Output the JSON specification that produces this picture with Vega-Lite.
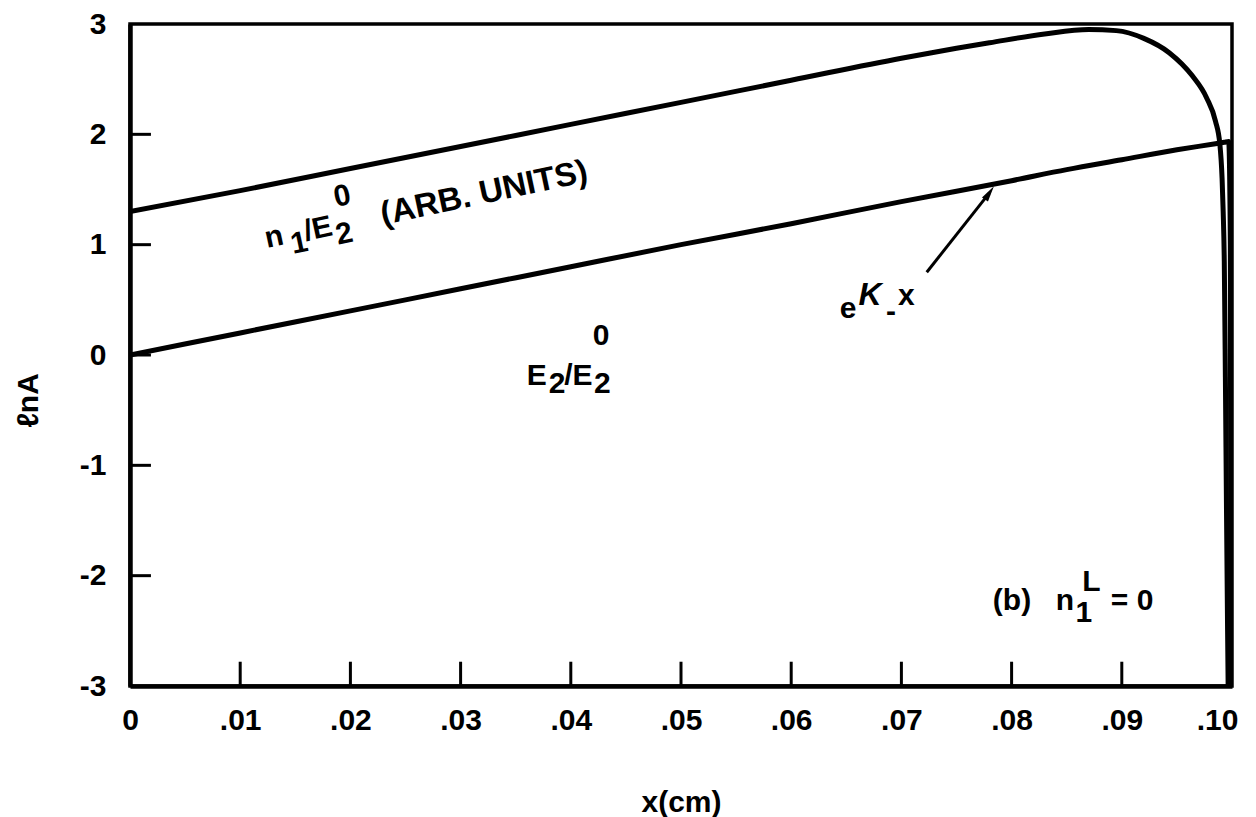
{
  "$schema": "https://vega.github.io/schema/vega-lite/v6.json",
  "width": 1102,
  "height": 662,
  "autosize": "none",
  "padding": {"left": 130, "top": 24, "right": 24, "bottom": 131},
  "background": "white",
  "config": {
    "view": {"stroke": "black", "strokeWidth": 3.5},
    "font": "Liberation Sans",
    "axis": {
      "grid": false,
      "ticks": false,
      "tickSize": 0,
      "domainColor": "black",
      "domainWidth": 4.5,
      "labelColor": "black",
      "labelFont": "Liberation Sans",
      "labelFontWeight": "bold",
      "labelFontSize": 30,
      "titleColor": "black",
      "titleFont": "Liberation Sans",
      "titleFontWeight": "bold",
      "titleFontSize": 30
    }
  },
  "datasets": {
    "curves": [
      {"series": "n1", "x": 0, "y": 1.30},
      {"series": "n1", "x": 0.01, "y": 1.49},
      {"series": "n1", "x": 0.02, "y": 1.69},
      {"series": "n1", "x": 0.03, "y": 1.89},
      {"series": "n1", "x": 0.04, "y": 2.09},
      {"series": "n1", "x": 0.05, "y": 2.29},
      {"series": "n1", "x": 0.06, "y": 2.49},
      {"series": "n1", "x": 0.07, "y": 2.69},
      {"series": "n1", "x": 0.075, "y": 2.78},
      {"series": "n1", "x": 0.078, "y": 2.83},
      {"series": "n1", "x": 0.083, "y": 2.91},
      {"series": "n1", "x": 0.087, "y": 2.95},
      {"series": "n1", "x": 0.0895, "y": 2.94},
      {"series": "n1", "x": 0.092, "y": 2.87},
      {"series": "n1", "x": 0.0943, "y": 2.74},
      {"series": "n1", "x": 0.0964, "y": 2.53},
      {"series": "n1", "x": 0.0977, "y": 2.33},
      {"series": "n1", "x": 0.0985, "y": 2.12},
      {"series": "n1", "x": 0.0989, "y": 1.91},
      {"series": "n1", "x": 0.0991, "y": 1.60},
      {"series": "n1", "x": 0.0992, "y": 1.30},
      {"series": "n1", "x": 0.0993, "y": 0.85},
      {"series": "n1", "x": 0.0994, "y": -0.2},
      {"series": "n1", "x": 0.0995, "y": -1.4},
      {"series": "n1", "x": 0.0996, "y": -2.5},
      {"series": "n1", "x": 0.09965, "y": -3.0},
      {"series": "E2", "x": 0, "y": 0.0},
      {"series": "E2", "x": 0.01, "y": 0.20},
      {"series": "E2", "x": 0.02, "y": 0.40},
      {"series": "E2", "x": 0.03, "y": 0.60},
      {"series": "E2", "x": 0.04, "y": 0.80},
      {"series": "E2", "x": 0.05, "y": 1.00},
      {"series": "E2", "x": 0.06, "y": 1.19},
      {"series": "E2", "x": 0.07, "y": 1.39},
      {"series": "E2", "x": 0.08, "y": 1.58},
      {"series": "E2", "x": 0.085, "y": 1.68},
      {"series": "E2", "x": 0.09, "y": 1.77},
      {"series": "E2", "x": 0.095, "y": 1.86},
      {"series": "E2", "x": 0.0985, "y": 1.915},
      {"series": "E2", "x": 0.0993, "y": 1.928},
      {"series": "E2", "x": 0.0997, "y": 1.935},
      {"series": "E2", "x": 0.09985, "y": 1.0},
      {"series": "E2", "x": 0.0999, "y": -3.0}
    ],
    "xticks": [
      {"v": 0.01}, {"v": 0.02}, {"v": 0.03}, {"v": 0.04}, {"v": 0.05},
      {"v": 0.06}, {"v": 0.07}, {"v": 0.08}, {"v": 0.09}
    ],
    "yticks": [
      {"v": -2}, {"v": -1}, {"v": 0}, {"v": 1}, {"v": 2}
    ],
    "notes": [
      {"group": "upper", "x": 0.01243, "y": 0.97, "text": "n"},
      {"group": "upper", "x": 0.01479, "y": 0.915, "text": "1"},
      {"group": "upper", "x": 0.01597, "y": 1.033, "text": "/E"},
      {"group": "upper", "x": 0.01887, "y": 1.0, "text": "2"},
      {"group": "upper", "x": 0.01869, "y": 1.341, "text": "0"},
      {"group": "upper2", "x": 0.02296, "y": 1.178, "text": "(ARB.  UNITS)"},
      {"group": "plain", "x": 0.0360, "y": -0.27, "text": "E"},
      {"group": "plain", "x": 0.0380, "y": -0.34, "text": "2"},
      {"group": "plain", "x": 0.0394, "y": -0.27, "text": "/E"},
      {"group": "plain", "x": 0.0421, "y": -0.34, "text": "2"},
      {"group": "plain", "x": 0.0420, "y": 0.09, "text": "0"},
      {"group": "plain", "x": 0.0644, "y": 0.335, "text": "e"},
      {"group": "plain", "x": 0.0686, "y": 0.31, "text": "-"},
      {"group": "plain", "x": 0.0697, "y": 0.453, "text": "x"},
      {"group": "kappa", "x": 0.0661, "y": 0.453, "text": "Κ"},
      {"group": "plain", "x": 0.0783, "y": -2.31, "text": "(b)"},
      {"group": "plain", "x": 0.0840, "y": -2.31, "text": "n"},
      {"group": "plain", "x": 0.0858, "y": -2.42, "text": "1"},
      {"group": "plain", "x": 0.0864, "y": -2.14, "text": "L"},
      {"group": "plain", "x": 0.0890, "y": -2.31, "text": "= 0"}
    ],
    "arrow": [
      {"x": 0.0723, "y": 0.75, "x2": 0.07799, "y2": 1.47}
    ]
  },
  "layer": [
    {
      "data": {"name": "curves"},
      "mark": {"type": "line", "color": "black", "strokeWidth": 5, "interpolate": "monotone", "clip": true},
      "encoding": {
        "x": {
          "field": "x", "type": "quantitative",
          "scale": {"domain": [0, 0.1], "nice": false, "zero": false},
          "axis": {
            "title": "x(cm)",
            "values": [0, 0.01, 0.02, 0.03, 0.04, 0.05, 0.06, 0.07, 0.08, 0.09, 0.1],
            "labelExpr": "datum.value == 0 ? '0' : replace(format(datum.value, '.2f'), '0.', '.')",
            "labelPadding": 19,
            "labelAlign": {"condition": {"test": "datum.value >= 0.1", "value": "right"}, "value": "center"},
            "labelOffset": {"condition": {"test": "datum.value >= 0.1", "value": 6}, "value": 0},
            "titlePadding": 52
          }
        },
        "y": {
          "field": "y", "type": "quantitative",
          "scale": {"domain": [-3, 3], "nice": false, "zero": false},
          "axis": {
            "title": "ℓnA",
            "values": [-3, -2, -1, 0, 1, 2, 3],
            "labelExpr": "datum.value < 0 ? '-' + abs(datum.value) : '' + datum.value",
            "labelPadding": 24,
            "titlePadding": 36,
            "titleY": 376
          }
        },
        "detail": {"field": "series"}
      }
    },
    {
      "data": {"name": "xticks"},
      "mark": {"type": "rule", "color": "black", "strokeWidth": 3},
      "encoding": {
        "x": {"field": "v", "type": "quantitative"},
        "y": {"datum": -3},
        "y2": {"datum": -2.78}
      }
    },
    {
      "data": {"name": "yticks"},
      "mark": {"type": "rule", "color": "black", "strokeWidth": 3},
      "encoding": {
        "y": {"field": "v", "type": "quantitative"},
        "x": {"datum": 0},
        "x2": {"datum": 0.0019}
      }
    },
    {
      "data": {"name": "arrow"},
      "mark": {"type": "rule", "color": "black", "strokeWidth": 3},
      "encoding": {
        "x": {"field": "x", "type": "quantitative"},
        "y": {"field": "y", "type": "quantitative"},
        "x2": {"field": "x2"},
        "y2": {"field": "y2"}
      }
    },
    {
      "data": {"name": "arrow"},
      "mark": {"type": "point", "shape": "M0,-1L0.45,1L-0.45,1Z", "filled": true, "color": "black", "opacity": 1, "size": 256, "angle": 34},
      "encoding": {
        "x": {"field": "x2", "type": "quantitative"},
        "y": {"field": "y2", "type": "quantitative"}
      }
    },
    {
      "data": {"name": "notes"},
      "transform": [{"filter": "datum.group == 'upper'"}],
      "mark": {"type": "text", "font": "Liberation Sans", "fontWeight": "bold", "fontSize": 30, "align": "left", "baseline": "alphabetic", "angle": 348, "color": "black"},
      "encoding": {
        "x": {"field": "x", "type": "quantitative"},
        "y": {"field": "y", "type": "quantitative"},
        "text": {"field": "text"}
      }
    },
    {
      "data": {"name": "notes"},
      "transform": [{"filter": "datum.group == 'upper2'"}],
      "mark": {"type": "text", "font": "Liberation Sans", "fontWeight": "bold", "fontSize": 33, "align": "left", "baseline": "alphabetic", "angle": 348, "color": "black"},
      "encoding": {
        "x": {"field": "x", "type": "quantitative"},
        "y": {"field": "y", "type": "quantitative"},
        "text": {"field": "text"}
      }
    },
    {
      "data": {"name": "notes"},
      "transform": [{"filter": "datum.group == 'plain'"}],
      "mark": {"type": "text", "font": "Liberation Sans", "fontWeight": "bold", "fontSize": 30, "align": "left", "baseline": "alphabetic", "color": "black"},
      "encoding": {
        "x": {"field": "x", "type": "quantitative"},
        "y": {"field": "y", "type": "quantitative"},
        "text": {"field": "text"}
      }
    },
    {
      "data": {"name": "notes"},
      "transform": [{"filter": "datum.group == 'kappa'"}],
      "mark": {"type": "text", "font": "Liberation Sans", "fontWeight": "bold", "fontStyle": "italic", "fontSize": 32, "align": "left", "baseline": "alphabetic", "color": "black"},
      "encoding": {
        "x": {"field": "x", "type": "quantitative"},
        "y": {"field": "y", "type": "quantitative"},
        "text": {"field": "text"}
      }
    }
  ]
}
